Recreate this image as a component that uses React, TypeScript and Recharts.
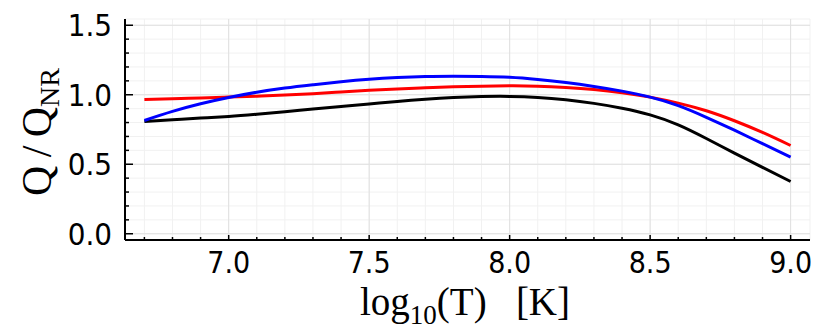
import React from "react";
import {
  LineChart,
  Line,
  XAxis,
  YAxis,
  CartesianGrid,
  ReferenceLine,
} from "recharts";

// log10(T) sample points
const logT = [
  6.7, 6.8, 6.9, 7.0, 7.1, 7.2, 7.3, 7.4, 7.5, 7.6, 7.7, 7.8, 7.9, 8.0, 8.1,
  8.2, 8.3, 8.4, 8.5, 8.6, 8.7, 8.8, 8.9, 9.0,
];

// Q / Q_NR for the three curves
const ratioBlack = [
  0.808, 0.82, 0.832, 0.844, 0.86, 0.878, 0.897, 0.915, 0.933, 0.952, 0.968,
  0.98, 0.987, 0.988, 0.981, 0.964, 0.938, 0.903, 0.855, 0.783, 0.685, 0.58,
  0.477, 0.376,
];
const ratioRed = [
  0.966, 0.971, 0.977, 0.983, 0.99, 0.998, 1.008, 1.02, 1.032, 1.042, 1.05,
  1.057, 1.062, 1.064, 1.062, 1.053, 1.038, 1.015, 0.983, 0.94, 0.885, 0.813,
  0.729, 0.635,
];
const ratioBlue = [
  0.815, 0.88, 0.935, 0.98, 1.018, 1.048, 1.072, 1.094, 1.112, 1.124, 1.131,
  1.133, 1.132, 1.126, 1.11, 1.088, 1.06, 1.026, 0.983, 0.922, 0.838, 0.745,
  0.648, 0.552,
];

const xMinorTicks = [
  6.7, 6.8, 6.9, 7.0, 7.1, 7.2, 7.3, 7.4, 7.5, 7.6, 7.7, 7.8, 7.9, 8.0, 8.1,
  8.2, 8.3, 8.4, 8.5, 8.6, 8.7, 8.8, 8.9, 9.0,
];
const xMajorTicks = [7.0, 7.5, 8.0, 8.5, 9.0];
const yMinorTicks = [
  0.0, 0.1, 0.2, 0.3, 0.4, 0.5, 0.6, 0.7, 0.8, 0.9, 1.0, 1.1, 1.2, 1.3, 1.4,
  1.5,
];
const yMajorTicks = [0.0, 0.5, 1.0, 1.5];

const data = logT.map((t, i) => ({
  t,
  black: ratioBlack[i],
  red: ratioRed[i],
  blue: ratioBlue[i],
}));

const tickFont = "'Liberation Sans Narrow', 'DejaVu Sans Condensed', 'DejaVu Sans', sans-serif";
const labelFont = "'Liberation Serif', 'DejaVu Serif', serif";

const XTick = (props: any) => {
  const { x, y, payload } = props;
  const major = xMajorTicks.includes(payload.value);
  return (
    <g>
      <line x1={x} x2={x} y1={y} y2={y - (major ? 5 : 3)} stroke="#000" strokeWidth={1.5} />
      {major && (
        <text x={x} y={y + 33} textAnchor="middle" fontSize={30} fontFamily={tickFont} fill="#000">
          {payload.value.toFixed(1)}
        </text>
      )}
    </g>
  );
};

const YTick = (props: any) => {
  const { x, y, payload } = props;
  const major = yMajorTicks.includes(payload.value);
  return (
    <g>
      <line x1={x} x2={x + (major ? 8 : 4)} y1={y} y2={y} stroke="#000" strokeWidth={1.5} />
      {major && (
        <text x={x - 13} y={y + 11} textAnchor="end" fontSize={31} fontFamily={tickFont} fill="#000">
          {payload.value.toFixed(1)}
        </text>
      )}
    </g>
  );
};

const XLabel = () => (
  <text x={465} y={315} textAnchor="middle" fontSize={39} fontFamily={labelFont} fill="#000">
    log
    <tspan dy={9} fontSize={27}>10</tspan>
    <tspan dy={-9}>{"(T)\u00A0\u00A0\u00A0[K]"}</tspan>
  </text>
);

const YLabel = () => (
  <text
    transform="rotate(-90)"
    x={-132}
    y={51}
    textAnchor="middle"
    fontSize={42}
    fontFamily={labelFont}
    fill="#000"
  >
    {"Q\u2009/\u2009Q"}
    <tspan dy={8} fontSize={28}>NR</tspan>
  </text>
);

const App: React.FC = () => {
  return (
    <div style={{ position: "absolute", left: 0, top: 0 }}>
      <LineChart
        width={830}
        height={332}
        data={data}
        margin={{ top: 19, right: 20, left: 0, bottom: 0 }}
      >
        <CartesianGrid stroke="#f1f1f1" strokeWidth={1} />
        {xMajorTicks.map((v) => (
          <ReferenceLine key={`gx${v}`} x={v} stroke="#e0e0e0" strokeWidth={1} />
        ))}
        {yMajorTicks.map((v) => (
          <ReferenceLine key={`gy${v}`} y={v} stroke="#e0e0e0" strokeWidth={1} />
        ))}
        <XAxis
          dataKey="t"
          type="number"
          domain={[6.631, 9.069]}
          ticks={xMinorTicks}
          interval={0}
          tickSize={0}
          tickMargin={0}
          tick={<XTick />}
          axisLine={{ stroke: "#000", strokeWidth: 2 }}
          height={92}
          label={<XLabel />}
        />
        <XAxis
          xAxisId="top"
          orientation="top"
          type="number"
          domain={[6.631, 9.069]}
          tick={false}
          tickLine={false}
          axisLine={{ stroke: "#000", strokeWidth: 2 }}
          height={0}
        />
        <YAxis
          type="number"
          domain={[-0.045, 1.545]}
          ticks={yMinorTicks}
          interval={0}
          tickSize={0}
          tickMargin={0}
          tick={<YTick />}
          axisLine={{ stroke: "#000", strokeWidth: 2 }}
          width={125}
          label={<YLabel />}
        />
        <YAxis
          yAxisId="right"
          orientation="right"
          type="number"
          domain={[-0.045, 1.545]}
          tick={false}
          tickLine={false}
          axisLine={{ stroke: "#000", strokeWidth: 2 }}
          width={0}
        />
        <Line type="natural" dataKey="black" stroke="#000000" strokeWidth={3} dot={false} isAnimationActive={false} />
        <Line type="natural" dataKey="red" stroke="#ff0000" strokeWidth={3} dot={false} isAnimationActive={false} />
        <Line type="natural" dataKey="blue" stroke="#0000ff" strokeWidth={3} dot={false} isAnimationActive={false} />
      </LineChart>
    </div>
  );
};

export default App;
